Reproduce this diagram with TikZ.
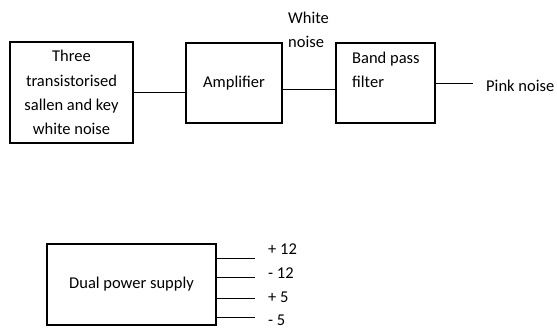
\documentclass[tikz,border=0pt]{standalone}
\usepackage{fontspec}
\setmainfont{Carlito}

\tikzset{
    blk/.style={draw,line width=1.3pt,inner sep=0pt,align=center},
    txt/.style={inner sep=0pt,align=left},
    wire/.style={line width=0.9pt}
}

\begin{document}
\begin{tikzpicture}[x=1pt,y=-1pt,font=\fontsize{16.5}{24.3}\selectfont]
    \useasboundingbox (0,0) rectangle (557,329);
    %
    \node[blk,minimum width=123pt,minimum height=101pt] (gen) at (71.5,92.5)
        {Three\\transistorised\\sallen and key\\white noise};
    \node[blk,minimum width=96pt,minimum height=80pt] (amp) at (234,83) {Amplifier};
    \node[blk,minimum width=99pt,minimum height=80pt] (bpf) at (385.5,83) {};
    \node[txt,anchor=base west] (bpflbl) at (352,88) {Band pass\\filter};
    \node[txt,anchor=base west] (white) at (288,48) {White\\noise};
    \coordinate (out) at (473,83);
    \node[txt,anchor=base west] (pink) at (486,92) {Pink noise};
    %
    \draw[wire] (gen.east) -- (gen.east -| amp.west);
    \draw[wire] ([yshift=-6pt]amp.east) -- ([yshift=-6pt]bpf.west);
    \draw[wire] (bpf.east) -- (out);
    %
    \node[blk,minimum width=169pt,minimum height=81pt] (psu) at (131.5,284.5) {Dual power supply};
    \foreach \y/\v/\b/\n in {258/+ 12/254/a, 277/- 12/278/b, 298/+ 5/302/c, 317/- 5/325/d} {
        \coordinate (end\n) at (255,\y);
        \draw[wire] (psu.east |- end\n) -- (end\n);
        \node[txt,anchor=base west] (rail\n) at (268,\b) {\v};
    }
    %
\end{tikzpicture}
\end{document}
